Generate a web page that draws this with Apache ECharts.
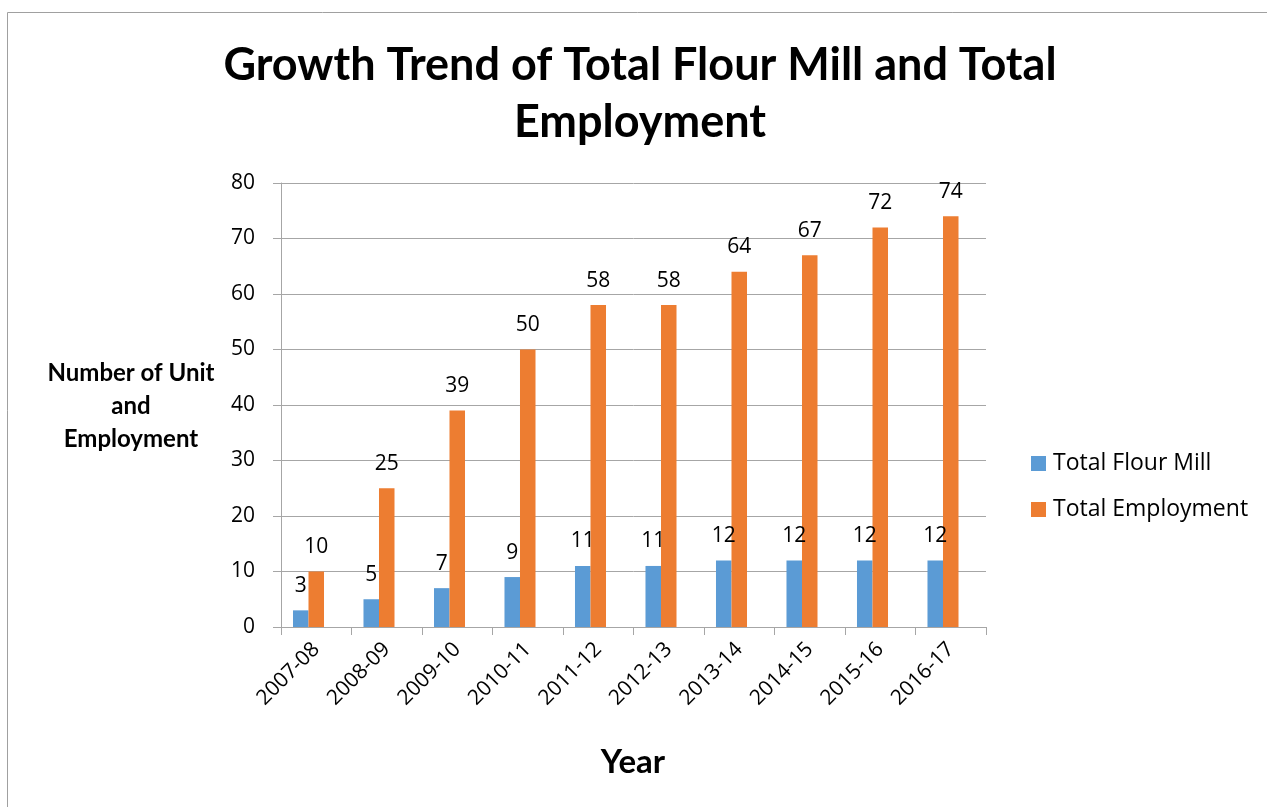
<!DOCTYPE html>
<html>
<head>
<meta charset="utf-8">
<script src="https://cdn.jsdelivr.net/npm/echarts@6/dist/echarts.min.js"></script>
<style>
  html, body { margin: 0; padding: 0; background: #fff; }
  #chart { width: 1267px; height: 807px; }
</style>
</head>
<body>
<div id="chart"></div>
<script>
// Fiscal years on the category axis
const years = ['2007-08', '2008-09', '2009-10', '2010-11', '2011-12',
               '2012-13', '2013-14', '2014-15', '2015-16', '2016-17'];
// Number of flour mill units per year
const flourMill = [3, 5, 7, 9, 11, 11, 12, 12, 12, 12];
// Total employment per year
const employment = [10, 25, 39, 50, 58, 58, 64, 67, 72, 74];
// Third (empty) column slot in each year group
const emptySlot = [null, null, null, null, null, null, null, null, null, null];
// Value axis range and step
const yMin = 0, yMax = 80, yStep = 10;

const BOLD_FONT = 'Lato, "Open Sans", sans-serif';
const FONT = '"Open Sans", Lato, sans-serif';
const GRAY = '#A6A6A6';

const chart = echarts.init(document.getElementById('chart'), null, { renderer: 'canvas' });

const labelStyle = {
  show: true,
  position: 'top',
  distance: 14,
  color: '#000',
  fontFamily: FONT,
  fontSize: 21
};

chart.setOption({
  animation: false,
  backgroundColor: '#fff',
  legend: {
    orient: 'vertical',
    left: 1026,
    top: 447,
    itemWidth: 15,
    itemHeight: 15,
    itemGap: 23,
    icon: 'rect',
    textStyle: { fontFamily: FONT, fontSize: 23, color: '#000', padding: [0, 0, 0, 2] },
    data: ['Total Flour Mill', 'Total Employment']
  },
  grid: { left: 281, right: 281, top: 183, bottom: 180, containLabel: false },
  xAxis: {
    type: 'category',
    data: years,
    boundaryGap: true,
    axisLine: { show: true, lineStyle: { color: GRAY, width: 1 } },
    axisTick: { show: true, alignWithLabel: false, length: 8, lineStyle: { color: GRAY } },
    axisLabel: {
      rotate: 45,
      margin: 19,
      color: '#000',
      fontFamily: FONT,
      fontSize: 21,
      interval: 0
    },
    splitLine: { show: false }
  },
  yAxis: {
    type: 'value',
    min: yMin,
    max: yMax,
    interval: yStep,
    axisLine: { show: true, lineStyle: { color: GRAY, width: 1 } },
    axisTick: { show: true, length: 8, lineStyle: { color: GRAY } },
    axisLabel: { margin: 26, color: '#000', fontFamily: FONT, fontSize: 21 },
    splitLine: { show: true, lineStyle: { color: GRAY, width: 1 } }
  },
  graphic: [
    {
      type: 'rect',
      silent: true,
      shape: { x: 7.5, y: 12.5, width: 1400, height: 1000 },
      style: { fill: 'none', stroke: '#A0A0A0', lineWidth: 1 },
      z: -10
    },
    {
      // chart title, two centred lines
      type: 'text',
      silent: true,
      style: {
        text: 'Growth Trend of Total Flour Mill and Total\nEmployment',
        x: 640,
        y: 37,
        textAlign: 'center',
        textVerticalAlign: 'top',
        fontFamily: BOLD_FONT,
        fontWeight: 'bold',
        fontSize: 45,
        lineHeight: 57,
        fill: '#000'
      }
    },
    {
      type: 'text',
      silent: true,
      style: {
        text: 'Number of Unit\nand\nEmployment',
        x: 131,
        y: 406,
        textAlign: 'center',
        textVerticalAlign: 'middle',
        fontFamily: BOLD_FONT,
        fontWeight: 'bold',
        fontSize: 24,
        lineHeight: 33,
        fill: '#000'
      }
    },
    {
      type: 'text',
      silent: true,
      style: {
        text: 'Year',
        x: 633,
        y: 762,
        textAlign: 'center',
        textVerticalAlign: 'middle',
        fontFamily: BOLD_FONT,
        fontWeight: 'bold',
        fontSize: 33,
        fill: '#000'
      }
    }
  ],
  series: [
    {
      name: 'Total Flour Mill',
      type: 'bar',
      data: flourMill,
      barGap: '0%',
      barCategoryGap: '34%',
      itemStyle: { color: '#5B9BD5' },
      label: labelStyle
    },
    {
      name: 'Total Employment',
      type: 'bar',
      data: employment,
      barGap: '0%',
      barCategoryGap: '34%',
      itemStyle: { color: '#ED7D31' },
      label: labelStyle
    },
    {
      name: 'empty',
      type: 'bar',
      data: emptySlot,
      barGap: '0%',
      barCategoryGap: '34%',
      silent: true,
      label: { show: false }
    }
  ]
});
</script>
</body>
</html>
